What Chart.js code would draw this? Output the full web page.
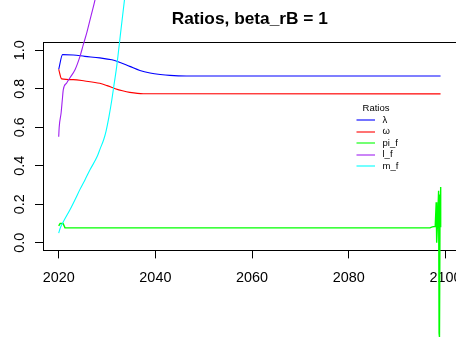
<!DOCTYPE html>
<html>
<head>
<meta charset="utf-8">
<script src="https://cdn.jsdelivr.net/npm/chart.js@4/dist/chart.umd.min.js"></script>
<style>
  html, body { margin: 0; padding: 0; background: #fff; overflow: hidden; width: 456px; height: 339px; }
  canvas { display: block; }
</style>
</head>
<body>
<canvas id="c" width="480" height="339"></canvas>
<script>
// Ratio paths over the simulation horizon
const seriesNames  = ['λ', 'ω', 'pi_f', 'l_f', 'm_f'];
const seriesColors = ['#0000ff', '#ff0000', '#00ff00', '#a020f0', '#00ffff'];

const lambdaYears = [2020, 2020.8, 2023, 2025.4, 2028.5, 2031, 2032.3, 2034.7, 2036.8, 2038.9, 2041, 2043, 2046.4, 2099];
const lambdaVals  = [0.900, 0.977, 0.975, 0.968, 0.960, 0.950, 0.940, 0.916, 0.895, 0.882, 0.874, 0.869, 0.866, 0.866];

const omegaYears = [2020, 2020.6, 2023, 2025.4, 2028.5, 2030, 2031.7, 2033.2, 2034.7, 2037.5, 2099];
const omegaVals  = [0.900, 0.851, 0.847, 0.840, 0.828, 0.816, 0.800, 0.789, 0.781, 0.774, 0.773];

const piYears = [2020, 2020.3, 2020.9, 2021.3, 2096.8, 2097.3, 2097.9, 2098.1, 2098.2, 2098.4, 2098.6, 2098.7, 2098.75, 2098.8, 2098.9, 2099.0, 2099.05];
const piVals  = [0.087, 0.100, 0.100, 0.077, 0.077, 0.082, 0.085, 0.210, 0.000, 0.120, 0.270, -0.470, 0.250, -0.490, 0.230, 0.290, 0.080];

const lYears = [2020, 2020.1, 2020.5, 2020.75, 2020.95, 2021.65, 2022.3, 2023.4, 2024.4, 2025.1, 2025.8, 2026.7, 2027.5, 2029];
const lVals  = [0.55, 0.60, 0.675, 0.744, 0.795, 0.830, 0.856, 0.900, 0.968, 1.030, 1.090, 1.180, 1.260, 1.450];

const mYears = [2020, 2020.3, 2021.2, 2022.3, 2023.4, 2024.4, 2025.5, 2026.5, 2028, 2028.6, 2029.3, 2029.8, 2030.4, 2031, 2031.5, 2032, 2032.8, 2033.6, 2035];
const mVals  = [0.050, 0.075, 0.120, 0.170, 0.225, 0.277, 0.330, 0.380, 0.450, 0.490, 0.535, 0.580, 0.655, 0.744, 0.830, 0.916, 1.089, 1.260, 1.560];

const xTicks = [2020, 2040, 2060, 2080, 2100];
const yTicks = [0, 0.2, 0.4, 0.6, 0.8, 1.0];

const titleText  = 'Ratios, beta_rB = 1';
const legendTitle = 'Ratios';

const FONT = '"Liberation Sans", Arial, Helvetica, sans-serif';

const seriesYears = [lambdaYears, omegaYears, piYears, lYears, mYears];
const seriesVals  = [lambdaVals, omegaVals, piVals, lVals, mVals];

const datasets = seriesNames.map((name, i) => ({
  label: name,
  data: seriesYears[i].map((yr, k) => ({ x: yr, y: seriesVals[i][k] })),
  borderColor: seriesColors[i],
  borderWidth: name === 'pi_f' ? 1.4 : 1.1,
  pointRadius: 0,
  // the jagged pi_f tail stays piecewise linear; the others are smooth paths
  cubicInterpolationMode: name === 'pi_f' ? 'default' : 'monotone',
  tension: 0,
  fill: false,
  clip: false,
  order: seriesNames.length - i
}));

// Title, rotated y labels, plot box and the legend
const decorations = {
  id: 'decorations',
  beforeDatasetsDraw(chart) {
    const { ctx, chartArea: a } = chart;
    ctx.save();
    ctx.strokeStyle = '#000';
    ctx.lineWidth = 1;
    ctx.beginPath();
    ctx.moveTo(a.left + 0.5, 42.5);
    ctx.lineTo(a.right + 0.5, 42.5);
    ctx.lineTo(a.right + 0.5, 250.5);
    ctx.stroke();
    ctx.restore();
  },
  afterDraw(chart) {
    const { ctx, chartArea: a, scales } = chart;
    ctx.save();
    // title
    ctx.fillStyle = '#000';
    ctx.font = 'bold 17.3px ' + FONT;
    ctx.textAlign = 'center';
    ctx.textBaseline = 'alphabetic';
    ctx.fillText(titleText, (a.left + a.right) / 2, 24);

    // y tick labels, rotated as in base graphics
    ctx.font = '14.4px ' + FONT;
    yTicks.forEach(v => {
      const py = scales.y.getPixelForValue(v);
      ctx.save();
      ctx.translate(24.3, py);
      ctx.rotate(-Math.PI / 2);
      ctx.textAlign = 'center';
      ctx.textBaseline = 'alphabetic';
      ctx.fillText(v.toFixed(1), 0, 0);
      ctx.restore();
    });

    // legend without a frame
    ctx.font = '9.5px ' + FONT;
    ctx.textAlign = 'center';
    ctx.textBaseline = 'middle';
    ctx.fillStyle = '#000';
    ctx.fillText(legendTitle, 376, 108.5);
    ctx.textAlign = 'left';
    chart.data.datasets.forEach((ds, i) => {
      const ry = 120 + i * 11.5;
      ctx.strokeStyle = ds.borderColor;
      ctx.globalAlpha = 0.55;
      ctx.lineWidth = 2;
      ctx.beginPath();
      ctx.moveTo(356.5, Math.round(ry));
      ctx.lineTo(375, Math.round(ry));
      ctx.stroke();
      ctx.globalAlpha = 1;
      ctx.fillStyle = '#000';
      ctx.fillText(ds.label, 382.5, ry);
    });
    ctx.restore();
  }
};

new Chart(document.getElementById('c'), {
  type: 'line',
  data: { datasets },
  options: {
    responsive: false,
    animation: false,
    events: [],
    layout: { padding: { top: 42.5, left: 0, right: 480 - 456.5, bottom: 0 } },
    plugins: { legend: { display: false }, title: { display: false }, tooltip: { enabled: false } },
    scales: {
      x: {
        type: 'linear',
        min: 2016.75,
        max: 2102.3,
        afterFit(s) { s.height = 339 - 250.4; },
        afterBuildTicks(s) { s.ticks = xTicks.map(v => ({ value: v })); },
        grid: { display: true, drawOnChartArea: false, drawTicks: true, tickLength: 8, color: '#000', lineWidth: 1 },
        border: { display: true, color: '#000', width: 1 },
        ticks: {
          autoSkip: false, maxRotation: 0, minRotation: 0, padding: 11,
          color: '#000', font: { family: FONT, size: 14.4 },
          callback: v => String(v)
        }
      },
      y: {
        type: 'linear',
        min: -0.04,
        max: 1.04,
        afterFit(s) { s.width = 43; },
        afterBuildTicks(s) { s.ticks = yTicks.map(v => ({ value: v })); },
        grid: { display: true, drawOnChartArea: false, drawTicks: true, tickLength: 8, color: '#000', lineWidth: 1 },
        border: { display: true, color: '#000', width: 1 },
        ticks: { display: false }
      }
    }
  },
  plugins: [decorations]
});
</script>
</body>
</html>
